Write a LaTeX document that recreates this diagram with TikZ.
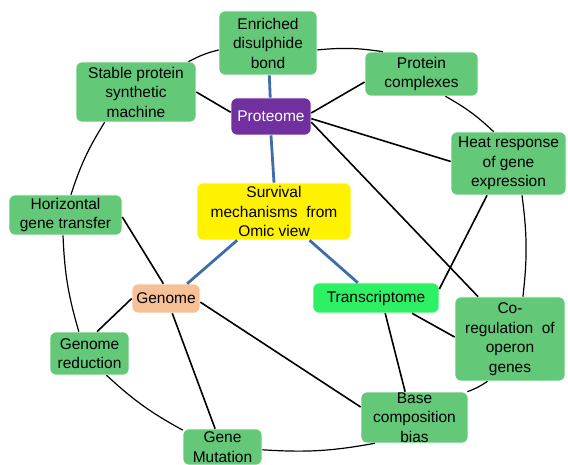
\documentclass[tikz,border=0pt]{standalone}
\usepackage{fontspec}
\setmainfont{Liberation Sans}
\definecolor{boxgreen}{RGB}{99,200,120}
\definecolor{proteomepurple}{RGB}{112,48,160}
\definecolor{genomeorange}{RGB}{248,192,150}
\definecolor{transgreen}{RGB}{45,240,100}
\definecolor{linkblue}{RGB}{62,110,170}
\begin{document}
\begin{tikzpicture}[x=1pt, y=-1pt,
    every node/.style={font=\fontsize{15.5}{19.5}\selectfont},
    box/.style={draw=white, line width=0.6pt, rounded corners=6pt, inner sep=0pt, align=center},
    topic/.style={box, fill=boxgreen},
    link/.style={line width=1.6pt, black},
    spine/.style={line width=2.8pt, linkblue},
    ring/.style={line width=1.2pt, black, bend left=7}]
    \useasboundingbox (0,0) rectangle (568,465);
    \clip (0,0) rectangle (568,465);

    % outer topics
    \node[topic, minimum width=98pt, minimum height=64pt] (enriched) at (268,43) {Enriched\\disulphide\\bond};
    \node[topic, minimum width=120pt, minimum height=60pt] (stable) at (136,92) {Stable protein\\synthetic\\machine};
    \node[topic, minimum width=113pt, minimum height=44pt] (complexes) at (421.5,74) {Protein\\complexes};
    \node[topic, minimum width=115pt, minimum height=63pt] (heat) at (508.5,163.5) {Heat response\\of gene\\expression};
    \node[topic, minimum width=113pt, minimum height=40pt] (hgt) at (65.5,215) {Horizontal\\gene transfer};
    \node[topic, minimum width=110pt, minimum height=84pt] (coreg) at (510,339) {Co-\\regulation\ \ of\\operon\\genes};
    \node[topic, minimum width=79pt, minimum height=43pt] (reduction) at (89.5,353.5) {Genome\\reduction};
    \node[topic, minimum width=107pt, minimum height=51pt] (base) at (414.5,417.5) {Base\\composition\\bias};
    \node[topic, minimum width=79pt, minimum height=36pt] (mutation) at (222.5,447) {Gene\\Mutation};

    % omics
    \node[box, fill=proteomepurple, text=white, minimum width=80pt, minimum height=37pt] (proteome) at (271,116.5) {Proteome};
    \node[box, fill=genomeorange, minimum width=68pt, minimum height=29pt] (genome) at (166,298.5) {Genome};
    \node[box, fill=transgreen, minimum width=126pt, minimum height=30pt] (transcriptome) at (376,298) {Transcriptome};
    \node[box, fill=yellow, minimum width=154pt, minimum height=57pt] (survival) at (274,211.5) {Survival\\mechanisms\ \ from\\Omic view};

    \draw[spine] (enriched) -- (proteome);
    \draw[spine] (proteome.south) -- (survival.north);
    \draw[spine] (survival.218) -- (genome.35);
    \draw[spine] (survival.-39) -- (transcriptome.140);

    \draw[link] (stable.east) -- (proteome.174);
    \draw[link] (proteome.5) -- (complexes.188);
    \draw[link] (proteome.-3) -- (heat.178);
    \draw[link] (proteome.-8) -- (coreg.127);
    \draw[link] (heat.236) -- (transcriptome.8);
    \draw[link] (transcriptome.-23) -- (coreg.178);
    \draw[link] (transcriptome.-59) -- (base.110);
    \draw[link] (genome.100) -- (hgt.-2);
    \draw[link] (genome.west) -- (reduction.71);
    \draw[link] (genome.-67) -- (mutation.112);
    \draw[link] (genome.-6) -- (base.169);

    % the ring
    \draw[ring] (stable.30) to (enriched.188);
    \draw[ring] (enriched.-8) to (complexes.150);
    \draw[ring] (complexes.-43) to (heat.115);
    \draw[ring] (heat.-67) to (coreg.73);
    \draw[ring] (coreg.242) to (base.26);
    \draw[ring] (base.213) to (mutation.-4);
    \draw[ring] (mutation.157) to (reduction.-52);
    \draw[ring] (reduction.116) to (hgt.263);
    \draw[ring] (hgt.75) to (stable.224);
\end{tikzpicture}
\end{document}
